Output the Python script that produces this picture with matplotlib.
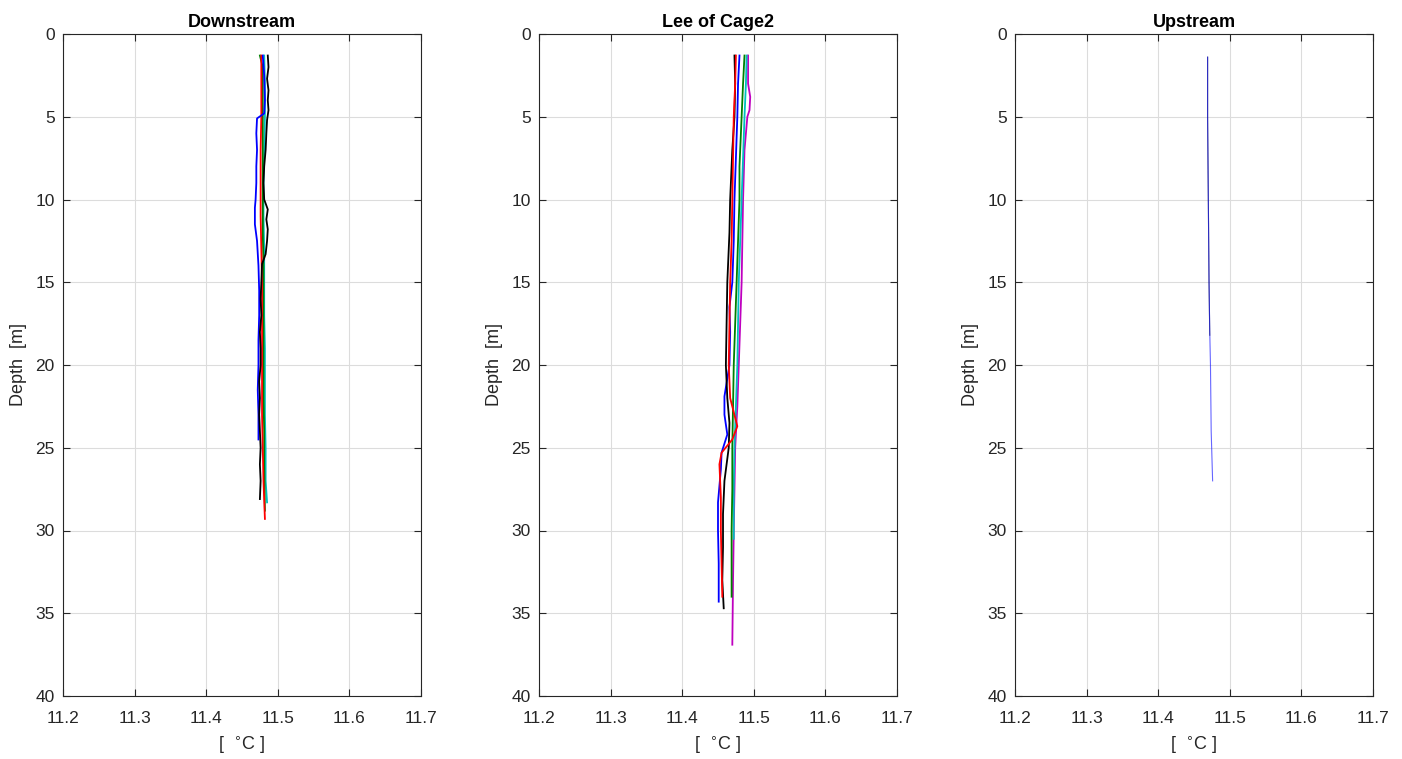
import numpy as np
import matplotlib.pyplot as plt

plt.rcParams['font.family'] = ['Liberation Sans', 'DejaVu Sans']

# Downstream profiles (depth in m, temperature in degC)
dn_black_z = [1.3, 2, 2.7, 3.4, 4, 4.6, 5.2, 6, 7, 8, 9, 10, 10.6, 11.2, 11.8, 12.5, 13.3, 13.9, 15, 16, 17, 18, 19, 20, 21, 22, 23, 24, 25, 26, 27, 28.1]
dn_black_t = [11.486, 11.487, 11.485, 11.487, 11.486, 11.487, 11.485, 11.484, 11.483, 11.481, 11.480, 11.481, 11.486, 11.484, 11.486, 11.485, 11.483, 11.478, 11.477, 11.476, 11.477, 11.475, 11.476, 11.476, 11.474, 11.475, 11.474, 11.475, 11.476, 11.475, 11.476, 11.475]
dn_blue_z = [1.3, 2.5, 4, 4.8, 5.1, 6, 7, 8, 9, 10, 10.5, 11.5, 12.5, 14, 15.5, 17, 18.5, 20, 21.5, 23, 24.5]
dn_blue_t = [11.479, 11.481, 11.482, 11.481, 11.471, 11.470, 11.471, 11.470, 11.470, 11.469, 11.468, 11.468, 11.471, 11.473, 11.474, 11.474, 11.473, 11.473, 11.472, 11.473, 11.473]
dn_red_z = [1.3, 3, 5, 7, 9, 11, 13, 15, 17, 19, 21, 23, 25, 27, 29.3]
dn_red_t = [11.477, 11.477, 11.477, 11.476, 11.476, 11.476, 11.477, 11.478, 11.478, 11.478, 11.478, 11.478, 11.479, 11.480, 11.482]
dn_green_z = [1.3, 2, 4, 6, 8, 10, 12, 14, 16, 18, 20, 22, 24, 26, 28.8]
dn_green_t = [11.475, 11.479, 11.479, 11.479, 11.479, 11.479, 11.479, 11.480, 11.480, 11.480, 11.480, 11.480, 11.481, 11.481, 11.482]
dn_cyan_z = [1.3, 3, 5, 7, 9, 11, 13, 15, 17, 19, 21, 23, 25, 27, 28.3]
dn_cyan_t = [11.481, 11.482, 11.482, 11.481, 11.480, 11.480, 11.481, 11.481, 11.481, 11.482, 11.482, 11.482, 11.483, 11.483, 11.485]

# Lee of Cage2 profiles
lee_black_z = [1.3, 3, 5, 7, 10, 12, 15, 17.5, 20, 22, 23.5, 25, 27, 29, 31, 33, 34.7]
lee_black_t = [11.473, 11.474, 11.473, 11.470, 11.467, 11.466, 11.463, 11.462, 11.461, 11.463, 11.466, 11.465, 11.459, 11.457, 11.457, 11.456, 11.458]
lee_red_z = [1.3, 3, 5, 7.5, 10, 12.5, 15, 17.5, 20, 22, 23.7, 24.5, 25.3, 26, 28, 30, 32, 34]
lee_red_t = [11.475, 11.474, 11.472, 11.471, 11.470, 11.469, 11.467, 11.466, 11.465, 11.467, 11.477, 11.470, 11.455, 11.452, 11.454, 11.454, 11.455, 11.456]
lee_blue_z = [1.3, 3, 5, 7.5, 10, 12.5, 15, 16.5, 18, 20, 21.9, 23, 24.2, 25.3, 26.3, 28.3, 30, 32, 34.3]
lee_blue_t = [11.480, 11.478, 11.477, 11.475, 11.473, 11.472, 11.470, 11.466, 11.467, 11.466, 11.459, 11.459, 11.463, 11.455, 11.454, 11.450, 11.450, 11.451, 11.451]
lee_green_z = [1.3, 3, 5, 8, 10, 12.5, 15, 17.5, 20, 22.5, 25, 27.5, 30, 32, 34]
lee_green_t = [11.487, 11.485, 11.483, 11.480, 11.480, 11.478, 11.476, 11.474, 11.472, 11.471, 11.470, 11.470, 11.469, 11.469, 11.469]
lee_cyan_z = [1.3, 3, 5, 7.5, 10, 12.5, 15, 17.5, 20, 22.5, 25, 27.5, 30.5]
lee_cyan_t = [11.490, 11.489, 11.487, 11.485, 11.483, 11.481, 11.479, 11.478, 11.477, 11.475, 11.473, 11.472, 11.472]
lee_magenta_z = [1.3, 3, 3.8, 4.6, 5, 7, 10, 12.5, 15, 17.5, 20, 22.5, 25, 27.5, 30, 33, 36.9]
lee_magenta_t = [11.492, 11.492, 11.495, 11.494, 11.491, 11.487, 11.485, 11.484, 11.483, 11.481, 11.479, 11.477, 11.474, 11.473, 11.472, 11.471, 11.470]

# Upstream profiles
up_blue_z = [1.4, 5, 10, 15, 18, 20, 24, 27]
up_blue_t = [11.469, 11.469, 11.470, 11.471, 11.472, 11.473, 11.474, 11.476]
up_black_z = [1.4, 5, 10, 15, 18.2]
up_black_t = [11.469, 11.469, 11.470, 11.471, 11.472]

panels = [
    ('Downstream', [(dn_cyan_z, dn_cyan_t, 'c'), (dn_green_z, dn_green_t, 'g'),
                    (dn_red_z, dn_red_t, 'r'), (dn_blue_z, dn_blue_t, 'b'),
                    (dn_black_z, dn_black_t, 'k')]),
    ('Lee of Cage2', [(lee_magenta_z, lee_magenta_t, 'm'), (lee_cyan_z, lee_cyan_t, 'c'),
                      (lee_green_z, lee_green_t, 'g'), (lee_blue_z, lee_blue_t, 'b'),
                      (lee_black_z, lee_black_t, 'k'), (lee_red_z, lee_red_t, 'r')]),
    ('Upstream', [(up_black_z, up_black_t, 'k'), (up_blue_z, up_blue_t, 'b')]),
]

fig = plt.figure(figsize=(14.02, 7.59), dpi=100)
lefts = [63, 539, 1015]
for left, (title, lines) in zip(lefts, panels):
    ax = fig.add_axes([left / 1402, 1 - 696 / 759, 358 / 1402, 662 / 759])
    for z, t, c in lines:
        if title == 'Upstream':
            ax.plot(t, z, '-', color=c, lw=0.8, alpha=0.6)
        else:
            ax.plot(t, z, '-', color=c, lw=1.3)
    ax.set_xlim(11.2, 11.7)
    ax.set_ylim(40, 0)
    ax.set_xticks(np.arange(11.2, 11.71, 0.1))
    ax.set_xticklabels(['11.2', '11.3', '11.4', '11.5', '11.6', '11.7'])
    ax.set_yticks(np.arange(0, 41, 5))
    ax.grid(True, color='#dcdcdc', lw=0.8)
    ax.set_axisbelow(True)
    ax.tick_params(direction='in', top=True, right=True, labelsize=12.5,
                   colors='#262626', length=5)
    ax.tick_params(axis='x', pad=11)
    ax.tick_params(axis='y', pad=6)
    for s in ax.spines.values():
        s.set_color('#262626')
        s.set_linewidth(0.8)
    ax.set_title(title, fontsize=13, fontweight='bold', pad=5)
    ax.set_ylabel('Depth  [m]', fontsize=13, color='#262626', labelpad=6)
    ax.set_xlabel('[  $^{\\circ}$C ]', fontsize=13, color='#262626', labelpad=6)

fig.savefig('out.png', dpi=100)
